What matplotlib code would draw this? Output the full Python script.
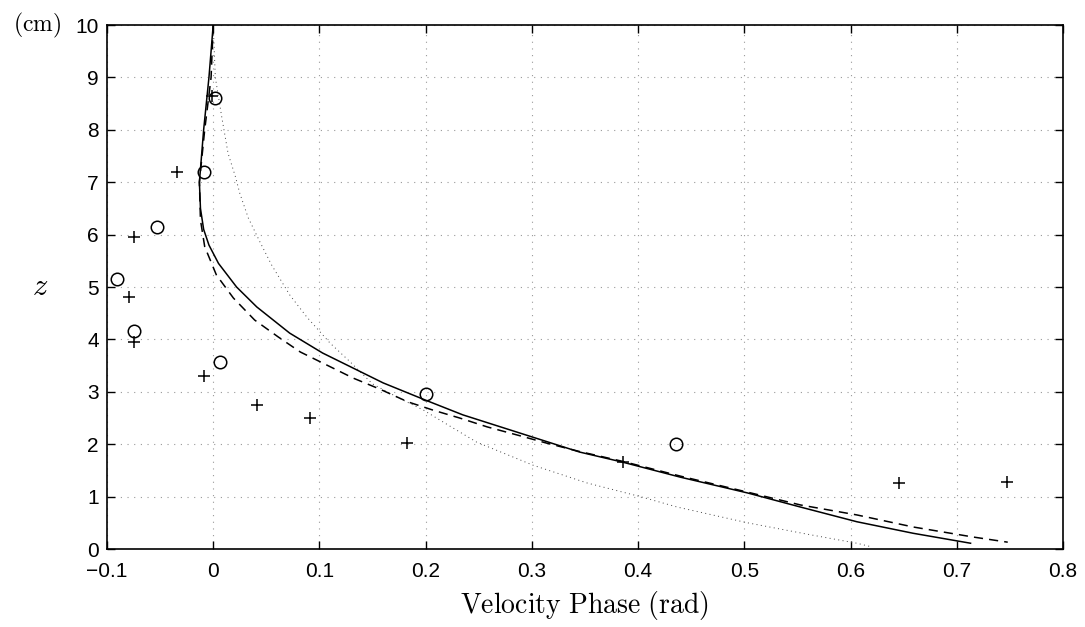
import numpy as np
import matplotlib
matplotlib.use("Agg")
import matplotlib.pyplot as plt

plt.rcParams["font.family"] = ["Liberation Sans", "DejaVu Sans"]
plt.rcParams["mathtext.fontset"] = "cm"

# ----------------------------
# Data
# ----------------------------
# measured phase (circles)
circ_x = [0.002, -0.009, -0.053, -0.091, -0.075, 0.006, 0.200, 0.436]
circ_z = [8.60, 7.20, 6.15, 5.15, 4.16, 3.57, 2.95, 2.00]

# measured phase (plus signs)
plus_x = [-0.001, -0.034, -0.075, -0.079, -0.075, -0.009, 0.041, 0.091, 0.182, 0.386, 0.646, 0.747]
plus_z = [8.65, 7.20, 5.95, 4.80, 3.95, 3.30, 2.75, 2.50, 2.02, 1.66, 1.26, 1.28]

# model curve, solid
solid_x = [0.0, -0.004, -0.009, -0.013, -0.012, -0.009, -0.004, 0.005, 0.022, 0.041,
           0.072, 0.103, 0.135, 0.160, 0.200, 0.235, 0.300, 0.345, 0.385, 0.440,
           0.503, 0.553, 0.606, 0.659, 0.713]
solid_z = [10.0, 9.0, 8.0, 7.0, 6.50, 6.10, 5.80, 5.45, 5.00, 4.62,
           4.12, 3.74, 3.42, 3.17, 2.84, 2.56, 2.14, 1.85, 1.66, 1.37,
           1.07, 0.80, 0.52, 0.30, 0.11]

# model curve, dashed
dash_x = [0.0, -0.002, -0.008, -0.013, -0.012, -0.008, 0.003, 0.019, 0.039, 0.061,
          0.082, 0.107, 0.132, 0.157, 0.183, 0.207, 0.232, 0.258, 0.289, 0.314,
          0.345, 0.386, 0.440, 0.500, 0.553, 0.606, 0.659, 0.715, 0.748]
dash_z = [10.0, 9.0, 8.0, 7.0, 6.28, 5.77, 5.23, 4.79, 4.37, 4.05,
          3.76, 3.51, 3.26, 3.05, 2.81, 2.65, 2.50, 2.33, 2.16, 2.02,
          1.86, 1.67, 1.39, 1.10, 0.84, 0.65, 0.42, 0.23, 0.13]

# model curve, dotted
dot_x = [0.0, 0.002, 0.008, 0.014, 0.021, 0.025, 0.033, 0.044, 0.055, 0.072,
         0.088, 0.110, 0.129, 0.150, 0.175, 0.198, 0.220, 0.248, 0.301, 0.352,
         0.402, 0.437, 0.503, 0.560, 0.606, 0.620]
dot_z = [10.0, 9.0, 8.25, 7.55, 7.10, 6.79, 6.32, 5.86, 5.42, 4.85,
         4.43, 3.93, 3.57, 3.15, 2.88, 2.65, 2.38, 2.04, 1.60, 1.26,
         1.00, 0.80, 0.50, 0.28, 0.11, 0.04]

# ----------------------------
# Plot
# ----------------------------
fig = plt.figure(figsize=(10.85, 6.27), dpi=100)
ax = fig.add_axes([0.0986, 0.1244, 0.8811, 0.8357])

ax.plot(dot_x, dot_z, color="#444444", linestyle=(0, (1, 3.5)), linewidth=0.7)
ax.plot(dash_x, dash_z, color="black", linestyle=(0, (6, 4)), linewidth=1.1)
ax.plot(solid_x, solid_z, color="black", linestyle="-", linewidth=1.1)

ax.plot(circ_x, circ_z, linestyle="none", marker="o", markersize=9,
        markerfacecolor="none", markeredgecolor="black", markeredgewidth=1.1)
ax.plot(plus_x, plus_z, linestyle="none", marker="+", markersize=9,
        color="black", markeredgewidth=1.1)

ax.set_xlim(-0.1, 0.8)
ax.set_ylim(0, 10)
ax.set_xticks(np.arange(-0.1, 0.81, 0.1))
ax.set_xticklabels(["\u22120.1", "0", "0.1", "0.2", "0.3", "0.4", "0.5", "0.6", "0.7", "0.8"])
ax.set_yticks(range(0, 11))

ax.grid(True, color="#999999", linestyle=(0, (1, 5)), linewidth=0.8)
ax.tick_params(direction="in", length=6, width=1, top=True, right=True,
               labelsize=15)
ax.tick_params(axis="x", pad=9)
ax.tick_params(axis="y", pad=6)
for s in ax.spines.values():
    s.set_linewidth(1.2)

ax.set_xlabel(r"$\mathrm{Velocity\ Phase\ (rad)}$", fontsize=20, labelpad=6)
fig.text(0.037, 0.542, r"$z$", fontsize=22, ha="center", va="center")
fig.text(0.034, 0.960, r"$\mathrm{(cm)}$", fontsize=17, ha="center", va="center")

plt.savefig("out.png", dpi=100)
plt.close()
